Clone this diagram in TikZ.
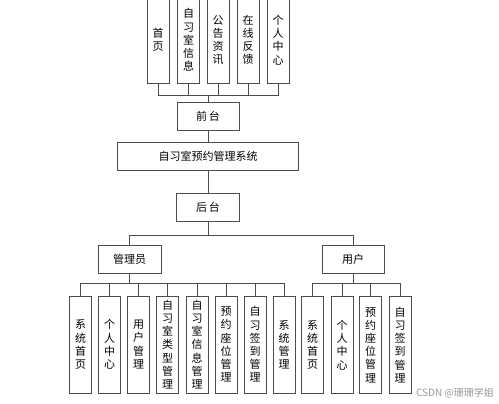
\documentclass[tikz,border=0pt]{standalone}
\usepackage{fontspec}
\setmainfont{Noto Sans CJK SC}
\usetikzlibrary{positioning}
\tikzset{
  box/.style={shape=rectangle,draw=black!70,line width=0.8pt,align=center,inner sep=0pt,
    font=\fontsize{11}{13.2}\selectfont},
  colbox/.style={box,minimum width=22pt,minimum height=#1},
  rowbox/.style={box,minimum width=#1,minimum height=28pt},
  link/.style={draw=black!70,line width=0.8pt}
}
\begin{document}
\begin{tikzpicture}[x=1pt,y=-1pt]
  \clip (0,0) rectangle (499,404);
  \fill[white] (0,0) rectangle (499,404);
  \path (158,40) node [colbox=86pt] (t1) {首\\页}
  (188.5,40) node [colbox=86pt] (t2) {自\\习\\室\\信\\息}
  (218,40) node [colbox=86pt] (t3) {公\\告\\资\\讯}
  (248,40) node [colbox=86pt] (t4) {在\\线\\反\\馈}
  (278,40) node [colbox=86pt] (t5) {个\\人\\中\\心};
  \path (208,116.5) node [rowbox=62pt] (front) {前\,台}
  (208,156) node [rowbox=181pt] (sys) {自习室预约管理系统}
  (208,207) node [rowbox=63pt] (back) {后\,台}
  (129.5,259) node [rowbox=63pt] (admin) {管理员}
  (353,259) node [rowbox=62pt] (user) {用户};
  \path (80.5,344.5) node [colbox=97pt] (a1) {系\\统\\首\\页}
  (109.5,344.5) node [colbox=97pt] (a2) {个\\人\\中\\心}
  (138.5,344.5) node [colbox=97pt] (a3) {用\\户\\管\\理}
  (167.5,344.5) node [colbox=97pt] (a4) {自\\习\\室\\类\\型\\管\\理}
  (197,344.5) node [colbox=97pt] (a5) {自\\习\\室\\信\\息\\管\\理}
  (226,344.5) node [colbox=97pt] (a6) {预\\约\\座\\位\\管\\理}
  (255,344.5) node [colbox=97pt] (a7) {自\\习\\签\\到\\管\\理}
  (284,344.5) node [colbox=97pt] (a8) {系\\统\\管\\理};
  \path (312.5,345) node [colbox=97pt] (u1) {系\\统\\首\\页}
  (342,345) node [colbox=97pt] (u2) {个\\人\\中\\心}
  (370.5,345) node [colbox=97pt] (u3) {预\\约\\座\\位\\管\\理}
  (400,345) node [colbox=97pt] (u4) {自\\习\\签\\到\\管\\理};
  \coordinate (topbus) at (208,95);
  \coordinate (backbus) at (208,235);
  \coordinate (adminbus) at (129.5,283);
  \coordinate (userbus) at (353,283);
  \foreach \i in {1,...,5} \draw[link] (t\i.south) |- (topbus);
  \draw[link] (topbus) -- (front.north);
  \draw[link] (front) -- (sys);
  \draw[link] (sys) -- (back);
  \draw[link] (back) -- (backbus);
  \draw[link] (backbus) -| (admin.north);
  \draw[link] (backbus) -| (user.north);
  \draw[link] (admin) -- (adminbus);
  \foreach \i in {1,...,8} \draw[link] (a\i.north) |- (adminbus);
  \draw[link] (user) -- (userbus);
  \foreach \i in {1,...,4} \draw[link] (u\i.north) |- (userbus);
  \node [text=black!40,font=\fontsize{10}{11}\selectfont] (mark) at (455,393) {CSDN @珊珊学姐};
\end{tikzpicture}
\end{document}
